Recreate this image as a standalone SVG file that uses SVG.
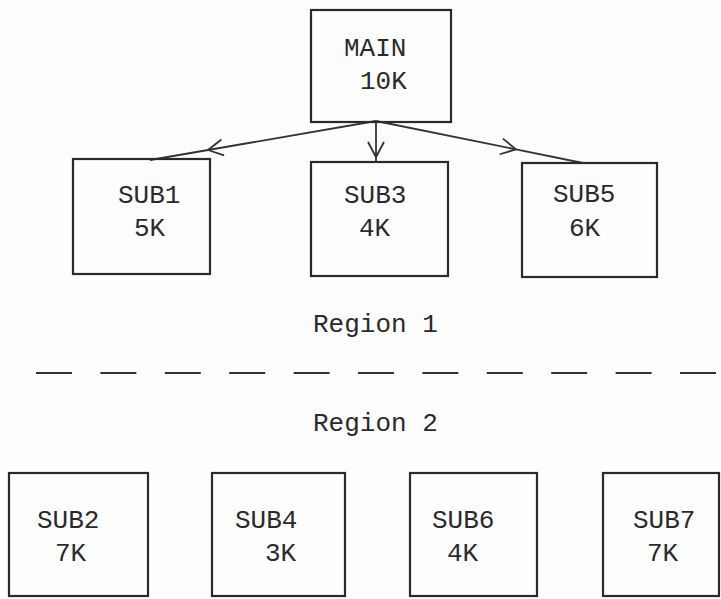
<svg xmlns="http://www.w3.org/2000/svg" width="721" height="599" viewBox="0 0 721 599">
  <style>
    .box { fill: none; stroke: #2a2a2a; stroke-width: 2.2; }
    .lbl { font-family: "Liberation Mono", "DejaVu Sans Mono", monospace; font-size: 26px; fill: #2a2a2a; }
    .conn { fill: none; stroke: #333; stroke-width: 1.8; }
    .sep { fill: none; stroke: #333; stroke-width: 2; stroke-dasharray: 36 28.4; }
  </style>
  <defs>
    <marker id="vhead" markerUnits="userSpaceOnUse" markerWidth="40" markerHeight="40" refX="0" refY="0" viewBox="-20 -20 40 40" orient="auto" overflow="visible">
      <path d="M -15 -8 L 0 0 L -15 8" fill="none" stroke="#333" stroke-width="1.8"/>
    </marker>
  </defs>
  <rect x="0" y="0" width="721" height="599" fill="#fdfdfd"/>

  <g id="connectors">
    <path class="conn" d="M 376 121 L 208 150 L 150 160" marker-mid="url(#vhead)"/>
    <path class="conn" d="M 376 121 L 376 157 L 376 162" marker-mid="url(#vhead)"/>
    <path class="conn" d="M 376 121 L 516 149.4 L 583 163" marker-mid="url(#vhead)"/>
  </g>

  <g id="MAIN">
    <rect class="box" x="311" y="10" width="140" height="112"/>
    <text class="lbl" x="344" y="56">MAIN</text>
    <text class="lbl" x="360" y="89">10K</text>
  </g>
  <g id="SUB1">
    <rect class="box" x="73" y="159" width="137" height="115"/>
    <text class="lbl" x="118" y="203">SUB1</text>
    <text class="lbl" x="134" y="236">5K</text>
  </g>
  <g id="SUB3">
    <rect class="box" x="311" y="162" width="137" height="114"/>
    <text class="lbl" x="344" y="203">SUB3</text>
    <text class="lbl" x="359" y="236">4K</text>
  </g>
  <g id="SUB5">
    <rect class="box" x="522" y="163" width="135" height="114"/>
    <text class="lbl" x="553" y="202">SUB5</text>
    <text class="lbl" x="569" y="236">6K</text>
  </g>

  <g id="region1">
    <text class="lbl" x="313" y="332">Region 1</text>
  </g>
  <g id="separator">
    <line class="sep" x1="36" y1="373" x2="721" y2="373"/>
  </g>
  <g id="region2">
    <text class="lbl" x="313" y="431">Region 2</text>
  </g>

  <g id="SUB2">
    <rect class="box" x="9" y="473" width="139" height="123"/>
    <text class="lbl" x="37" y="528">SUB2</text>
    <text class="lbl" x="55" y="561">7K</text>
  </g>
  <g id="SUB4">
    <rect class="box" x="212" y="473" width="133" height="123"/>
    <text class="lbl" x="235" y="528">SUB4</text>
    <text class="lbl" x="265" y="561">3K</text>
  </g>
  <g id="SUB6">
    <rect class="box" x="410" y="473" width="127" height="123"/>
    <text class="lbl" x="432" y="528">SUB6</text>
    <text class="lbl" x="447" y="561">4K</text>
  </g>
  <g id="SUB7">
    <rect class="box" x="603" y="473" width="116" height="123"/>
    <text class="lbl" x="633" y="528">SUB7</text>
    <text class="lbl" x="647" y="561">7K</text>
  </g>
</svg>
